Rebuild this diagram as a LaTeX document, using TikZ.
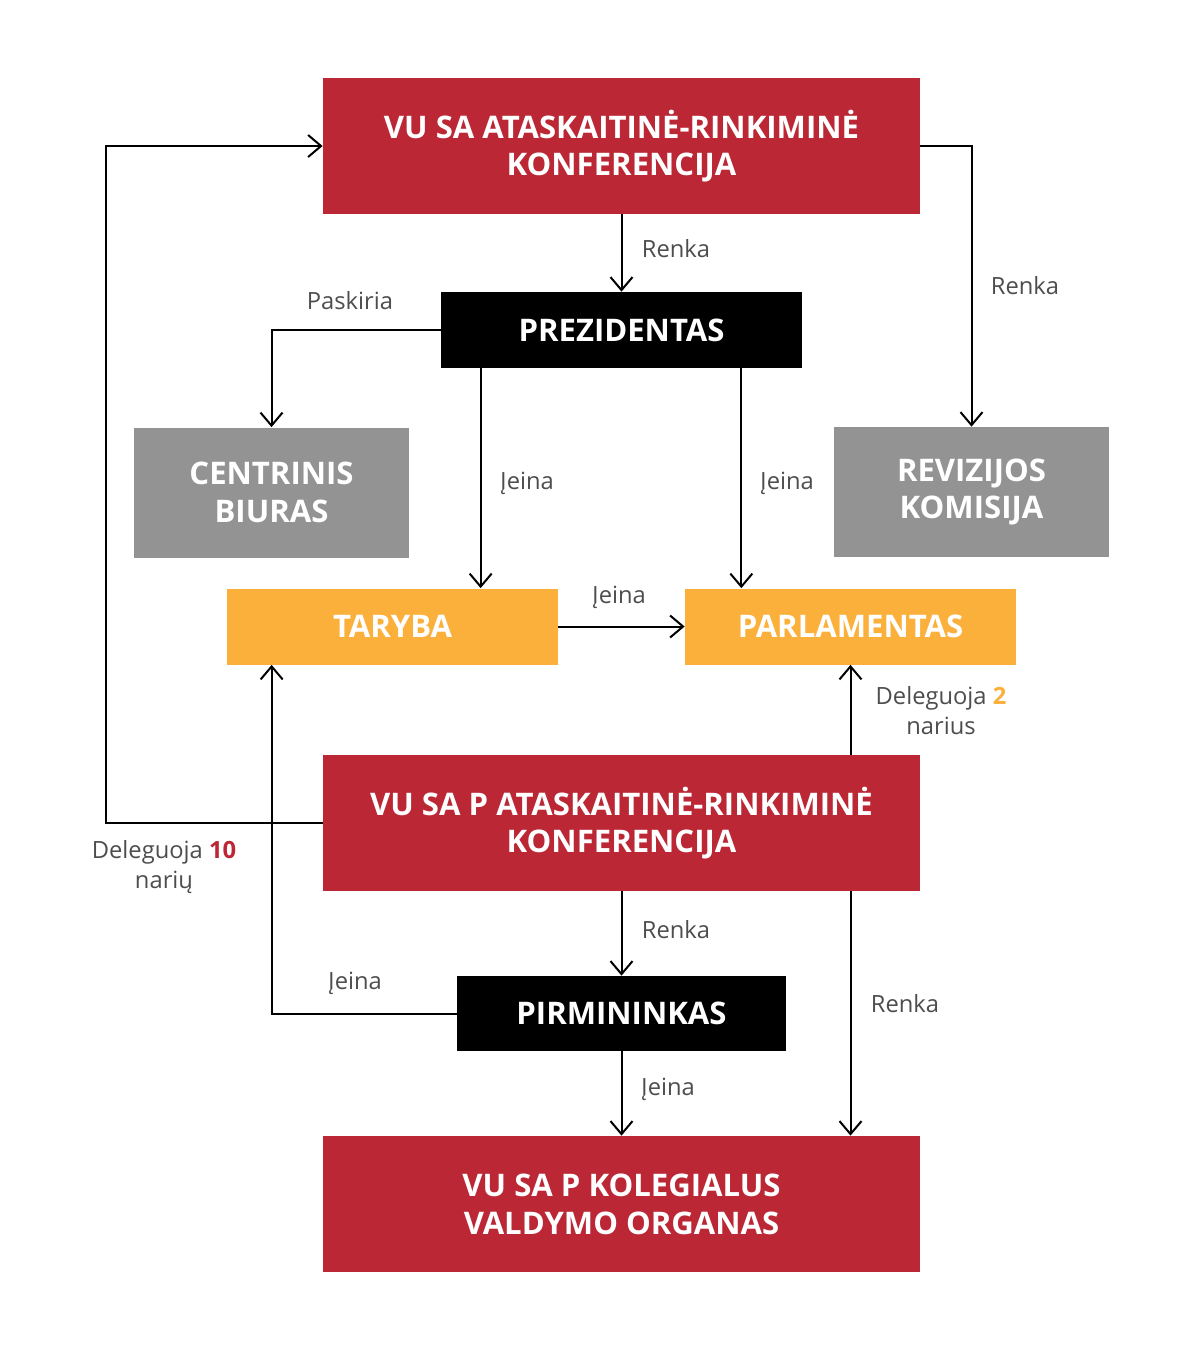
\documentclass[tikz,border=0pt]{standalone}
\usepackage{fontspec}
\setmainfont{Open Sans}
\usepackage{tikz}
\usetikzlibrary{arrows.meta,calc}
\definecolor{vured}{HTML}{BB2734}
\definecolor{vugray}{HTML}{939393}
\definecolor{vuorange}{HTML}{FBB03B}
\definecolor{labelgray}{HTML}{4D4D4D}
\begin{document}
\begin{tikzpicture}[x=0.2mm, y=-0.2mm,
	box/.style={inner sep=0pt, align=center, text=white, font=\fontsize{17.7}{21.5}\selectfont\bfseries},
	bigbox/.style={box, fill=vured, minimum width=11.94cm, minimum height=2.72cm},
	headbox/.style={box, fill=black, minimum height=1.52cm},
	greybox/.style={box, fill=vugray, minimum width=5.5cm, minimum height=2.6cm},
	orangebox/.style={box, fill=vuorange, minimum width=6.62cm, minimum height=1.52cm},
	arr/.style={-{Straight Barb[length=2.6mm, width=4.4mm]}, line width=0.4mm},
	lbl/.style={text=labelgray, align=center, font=\fontsize{13.5}{17}\selectfont}]
	\useasboundingbox (0,0) rectangle (1200,1362);
	\node[bigbox] (konf) at (621.5,146) {VU SA ATASKAITINĖ-RINKIMINĖ\\KONFERENCIJA};
	\node[headbox, minimum width=7.22cm] (pres) at (621.5,330) {PREZIDENTAS};
	\node[greybox] (biur) at (271.5,492.5) {CENTRINIS\\BIURAS};
	\node[greybox] (rev) at (971.5,492) {REVIZIJOS\\KOMISIJA};
	\node[orangebox] (tar) at (392.5,626.5) {TARYBA};
	\node[orangebox] (parl) at (850.5,626.5) {PARLAMENTAS};
	\node[bigbox] (pkonf) at (621.5,823) {VU SA P ATASKAITINĖ-RINKIMINĖ\\KONFERENCIJA};
	\node[headbox, minimum width=6.58cm, minimum height=1.5cm] (pirm) at (621.5,1013.5) {PIRMININKAS};
	\node[bigbox] (kol) at (621.5,1204) {VU SA P KOLEGIALUS\\VALDYMO ORGANAS};
	\coordinate (tarin) at ($(pres.south west)+(40,0)$);
	\coordinate (parlin) at ($(pres.south east)+(-61,0)$);
	\coordinate (tarup) at ($(tar.south west)+(45,0)$);
	\draw[arr] (konf) -- (pres);
	\draw[arr] (konf.east) -| (rev.north);
	\draw[arr] (pres.west) -| (biur.north);
	\draw[arr] (tarin) -- (tarin |- tar.north);
	\draw[arr] (parlin) -- (parlin |- parl.north);
	\draw[arr] (tar.east) -- (parl.west);
	\draw[arr] (pkonf.north -| parl.south) -- (parl.south);
	\draw[arr] (pkonf.west) -- ++(-217,0) |- (konf.west);
	\draw[arr] (pirm.west) -| (tarup);
	\draw[arr] (pkonf) -- (pirm);
	\draw[arr] (pkonf.south -| parl.south) -- (kol.north -| parl.south);
	\draw[arr] (pirm) -- (kol);
	\node[lbl] (l1) at (676,249) {Renka};
	\node[lbl] (l2) at (1025,286) {Renka};
	\node[lbl] (l3) at (350,301) {Paskiria};
	\node[lbl] (l4) at (527,483) {Įeina};
	\node[lbl] (l5) at (787,483) {Įeina};
	\node[lbl] (l6) at (619,597) {Įeina};
	\node[lbl] (l7) at (941,711) {Deleguoja {\bfseries\color{vuorange}2}\\narius};
	\node[lbl] (l8) at (164,867) {Deleguoja {\bfseries\color{vured}10}\\narių};
	\node[lbl] (l9) at (676,930) {Renka};
	\node[lbl] (l10) at (355,983) {Įeina};
	\node[lbl] (l11) at (905,1004) {Renka};
	\node[lbl] (l12) at (668,1089) {Įeina};
\end{tikzpicture}
\end{document}
